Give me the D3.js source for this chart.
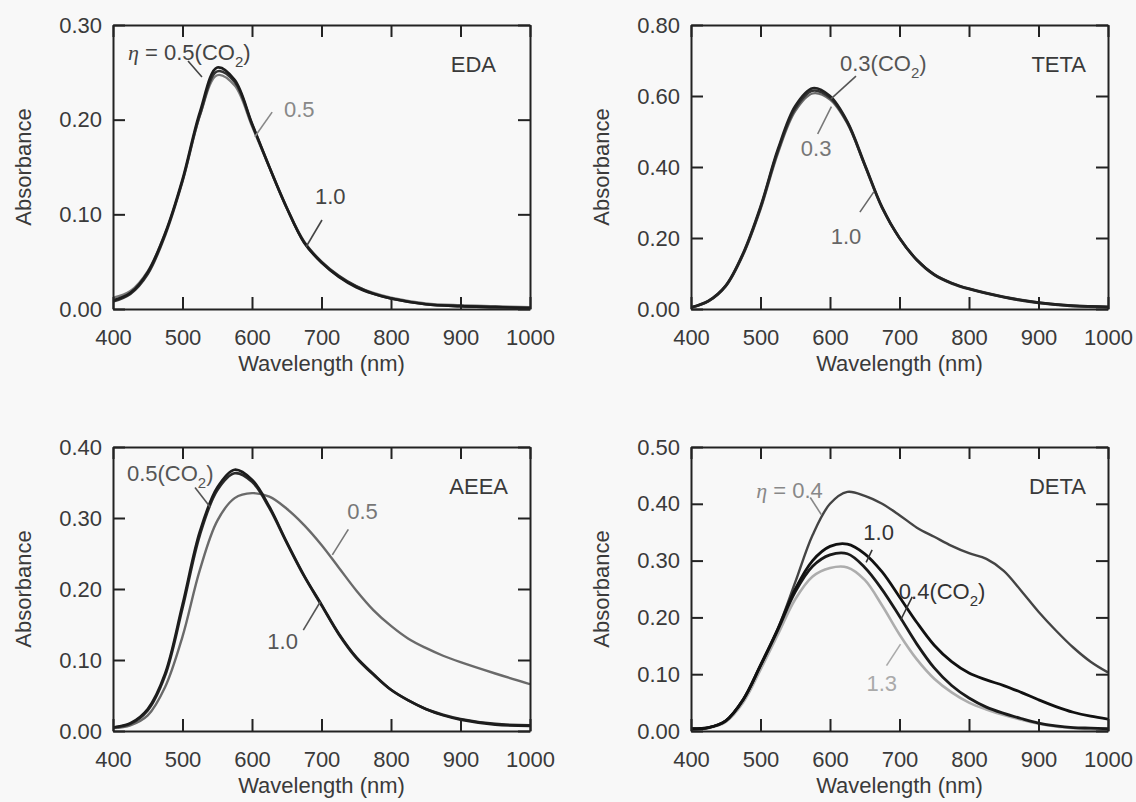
<!DOCTYPE html>
<html>
<head>
<meta charset="utf-8">
<script src="https://cdn.jsdelivr.net/npm/d3@7"></script>
<style>
body{margin:0;background:#f8f8f8;}
svg{display:block;font-family:"Liberation Sans",Arial,sans-serif;}
</style>
</head>
<body>
<div id="container"></div>
<script>
let w = 1136;
let h = 802;
let pw = 417;
let ph = 284;

// wavelengths, nm
let wlEDA = [400,425,450,475,500,525,550,575,600,625,650,675,700,725,750,775,800,850,900,950,1000];
let wlTETA = wlEDA;
let wlAEEA = [400,425,450,475,500,525,550,575,600,625,650,675,700,725,750,775,800,825,850,875,900,950,1000];
let wlDETA = [400,425,450,475,500,525,550,575,600,625,650,675,700,725,750,775,800,825,850,875,900,925,950,975,1000];

// absorbance
let edaCO2 = [0.009,0.017,0.039,0.080,0.137,0.208,0.255,0.242,0.196,0.150,0.107,0.070,0.049,0.034,0.023,0.016,0.011,0.005,0.003,0.002,0.001];
let eda05 = [0.012,0.019,0.040,0.080,0.135,0.204,0.247,0.236,0.193,0.149,0.106,0.070,0.049,0.034,0.024,0.017,0.012,0.006,0.004,0.003,0.002];
let eda10 = [0.008,0.016,0.037,0.078,0.135,0.205,0.251,0.240,0.195,0.150,0.107,0.071,0.050,0.035,0.024,0.016,0.011,0.005,0.003,0.002,0.001];

let tetaCO2 = [0.005,0.023,0.066,0.157,0.288,0.450,0.572,0.622,0.600,0.528,0.408,0.287,0.200,0.138,0.097,0.073,0.057,0.034,0.018,0.009,0.006];
let teta03 = [0.004,0.021,0.063,0.152,0.280,0.438,0.557,0.607,0.590,0.522,0.405,0.285,0.199,0.139,0.098,0.074,0.058,0.035,0.019,0.010,0.006];
let teta10 = [0.004,0.022,0.065,0.155,0.285,0.445,0.565,0.615,0.595,0.525,0.405,0.285,0.200,0.138,0.096,0.072,0.056,0.033,0.017,0.008,0.005];

let aeeaCO2 = [0.005,0.011,0.031,0.081,0.178,0.281,0.343,0.368,0.354,0.316,0.266,0.219,0.178,0.137,0.104,0.080,0.058,0.043,0.031,0.022,0.016,0.009,0.007];
let aeea10 = [0.005,0.010,0.029,0.078,0.173,0.276,0.339,0.363,0.351,0.314,0.265,0.218,0.177,0.136,0.103,0.079,0.058,0.043,0.031,0.023,0.017,0.010,0.008];
let aeea05 = [0.004,0.008,0.022,0.062,0.133,0.227,0.296,0.328,0.335,0.330,0.313,0.290,0.262,0.230,0.198,0.170,0.148,0.130,0.117,0.106,0.097,0.081,0.066];

let deta04 = [0.003,0.006,0.018,0.055,0.115,0.180,0.262,0.345,0.400,0.421,0.414,0.400,0.380,0.358,0.342,0.326,0.313,0.303,0.282,0.247,0.210,0.177,0.147,0.122,0.103];
let deta10 = [0.004,0.006,0.018,0.055,0.116,0.180,0.250,0.300,0.325,0.329,0.312,0.280,0.236,0.191,0.151,0.122,0.102,0.090,0.080,0.068,0.055,0.043,0.033,0.026,0.021];
let detaCO2 = [0.004,0.006,0.018,0.055,0.115,0.178,0.245,0.290,0.310,0.312,0.288,0.249,0.202,0.153,0.111,0.080,0.058,0.042,0.031,0.022,0.014,0.009,0.006,0.005,0.004];
let deta13 = [0.003,0.005,0.016,0.050,0.108,0.170,0.232,0.272,0.287,0.288,0.266,0.221,0.170,0.126,0.092,0.068,0.050,0.038,0.028,0.020,0.013,0.008,0.005,0.003,0.002];

let xTicks = [400,500,600,700,800,900,1000];

let svg = d3.select("#container")
  .append("svg")
  .attr("width", w)
  .attr("height", h);

svg.append("rect")
  .attr("width", w)
  .attr("height", h)
  .attr("fill", "#f8f8f8");

let panels = [
  {name:"EDA", left:113, top:25, yMax:0.30, nameDx:34, wl:wlEDA,
    series:[
      {v:eda05, color:"#7a7a7a", sw:2.2},
      {v:eda10, color:"#333", sw:2.6},
      {v:edaCO2, color:"#1c1c1c", sw:2.6}
    ],
    notes:[
      {parts:[["η","i"],[" = 0.5(CO"],["2","s"],[")"]], at:[421.6,0.263], color:"#444", line:[[508,0.262],[528,0.245]]},
      {parts:[["0.5"]], at:[646,0.203], color:"#888", line:[[629,0.208],[604,0.182]]},
      {parts:[["1.0"]], at:[690.6,0.111], color:"#444", line:[[700.7,0.094],[677.7,0.0655]]}
    ]},
  {name:"TETA", left:691, top:25, yMax:0.80, nameDx:22, wl:wlTETA,
    series:[
      {v:teta03, color:"#6a6a6a", sw:2.2},
      {v:teta10, color:"#333", sw:2.6},
      {v:tetaCO2, color:"#222", sw:2.6}
    ],
    notes:[
      {parts:[["0.3(CO"],["2","s"],[")"]], at:[614.4,0.670], color:"#555", line:[[637.4,0.656],[601.4,0.592]]},
      {parts:[["0.3"]], at:[558,0.431], color:"#777", line:[[582.3,0.493],[602,0.57]]},
      {parts:[["1.0"]], at:[601,0.183], color:"#666", line:[[643,0.273],[663,0.330]]}
    ]},
  {name:"AEEA", left:113, top:447, yMax:0.40, nameDx:22, wl:wlAEEA,
    series:[
      {v:aeea05, color:"#6a6a6a", sw:2.4},
      {v:aeea10, color:"#2a2a2a", sw:2.6},
      {v:aeeaCO2, color:"#1c1c1c", sw:2.6}
    ],
    notes:[
      {parts:[["0.5(CO"],["2","s"],[")"]], at:[420,0.352], color:"#555", line:[[518,0.343],[540,0.315]]},
      {parts:[["0.5"]], at:[737,0.298], color:"#777", line:[[738.6,0.284],[715.6,0.248]]},
      {parts:[["1.0"]], at:[622,0.116], color:"#555", line:[[673.8,0.142],[698.3,0.182]]}
    ]},
  {name:"DETA", left:691, top:447, yMax:0.50, nameDx:22, wl:wlDETA,
    series:[
      {v:deta13, color:"#adadad", sw:2.6},
      {v:deta04, color:"#444", sw:2.4},
      {v:detaCO2, color:"#1a1a1a", sw:2.8},
      {v:deta10, color:"#111", sw:2.8}
    ],
    notes:[
      {parts:[["η","i"],[" = 0.4"]], at:[493.8,0.411], color:"#888", line:[[571.6,0.411],[587.5,0.381]]},
      {parts:[["1.0"]], at:[648,0.336], color:"#333", line:[[660.6,0.319],[652,0.297]]},
      {parts:[["0.4(CO"],["2","s"],[")"]], at:[699,0.232], color:"#333", line:[[718.3,0.236],[701.5,0.195]]},
      {parts:[["1.3"]], at:[652.4,0.071], color:"#aaa", line:[[701.5,0.153],[681.3,0.115]]}
    ]}
];

function styleAxis(a){
  a.selectAll("path").attr("stroke","#222").attr("stroke-width",2);
  a.selectAll("line").attr("stroke","#222").attr("stroke-width",2);
  a.selectAll("text")
    .attr("fill","#3a3a3a")
    .attr("font-size",22)
    .attr("font-family","'Liberation Sans',Arial,sans-serif");
}

panels.forEach(function(p, i){
  let g = svg.append("g").attr("transform","translate("+p.left+","+p.top+")");
  let x = d3.scaleLinear().domain([400,1000]).range([0,pw]);
  let y = d3.scaleLinear().domain([0,p.yMax]).range([ph,0]);
  let yTicks = d3.range(0, p.yMax + 1e-9, 0.1);
  if (p.yMax > 0.6) yTicks = d3.range(0, p.yMax + 1e-9, 0.2);

  g.append("clipPath").attr("id","clip"+i)
    .append("rect").attr("width",pw).attr("height",ph);

  let line = d3.line()
    .x(function(d){ return x(d[0]); })
    .y(function(d){ return y(d[1]); })
    .curve(d3.curveCatmullRom.alpha(0.5));

  p.series.forEach(function(s){
    g.append("path")
      .datum(p.wl.map(function(l, k){ return [l, s.v[k]]; }))
      .attr("clip-path","url(#clip"+i+")")
      .attr("fill","none")
      .attr("stroke",s.color)
      .attr("stroke-width",s.sw)
      .attr("stroke-linejoin","round")
      .attr("d",line);
  });

  let ax;
  ax = g.append("g").attr("transform","translate(0,"+ph+")")
    .call(d3.axisBottom(x).tickValues(xTicks).tickSize(-12).tickSizeOuter(0).tickPadding(20).tickFormat(d3.format("d")));
  styleAxis(ax);
  ax = g.append("g")
    .call(d3.axisTop(x).tickValues(xTicks).tickSize(-12).tickSizeOuter(0).tickFormat(""));
  styleAxis(ax);
  ax = g.append("g")
    .call(d3.axisLeft(y).tickValues(yTicks).tickSize(-12).tickSizeOuter(0).tickPadding(11).tickFormat(d3.format(".2f")));
  styleAxis(ax);
  ax = g.append("g").attr("transform","translate("+pw+",0)")
    .call(d3.axisRight(y).tickValues(yTicks).tickSize(-12).tickSizeOuter(0).tickFormat(""));
  styleAxis(ax);

  g.append("text")
    .text("Wavelength (nm)")
    .attr("x",pw/2)
    .attr("y",ph+62)
    .attr("text-anchor","middle")
    .attr("font-size",22)
    .attr("fill","#3a3a3a");

  g.append("text")
    .text("Absorbance")
    .attr("transform","translate(-90,"+(ph/2)+") rotate(-90)")
    .attr("dy","0.36em")
    .attr("text-anchor","middle")
    .attr("font-size",22)
    .attr("fill","#3a3a3a");

  g.append("text")
    .text(p.name)
    .attr("x",pw-p.nameDx)
    .attr("y",47)
    .attr("text-anchor","end")
    .attr("font-size",22)
    .attr("fill","#3a3a3a");

  p.notes.forEach(function(n){
    g.append("line")
      .attr("x1",x(n.line[0][0])).attr("y1",y(n.line[0][1]))
      .attr("x2",x(n.line[1][0])).attr("y2",y(n.line[1][1]))
      .attr("stroke",n.color)
      .attr("stroke-width",1.6);
    let t = g.append("text")
      .attr("x",x(n.at[0]))
      .attr("y",y(n.at[1]))
      .attr("font-size",22)
      .attr("fill",n.color);
    let shifted = false;
    n.parts.forEach(function(pt){
      let sp = t.append("tspan").text(pt[0]);
      if (pt[1] == "i") sp.attr("font-style","italic").attr("font-family","'Liberation Serif','Times New Roman',serif");
      if (pt[1] == "s") { sp.attr("font-size",15).attr("dy",7); shifted = true; }
      else if (shifted) { sp.attr("dy",-7); shifted = false; }
    });
  });
});
</script>
</body>
</html>
